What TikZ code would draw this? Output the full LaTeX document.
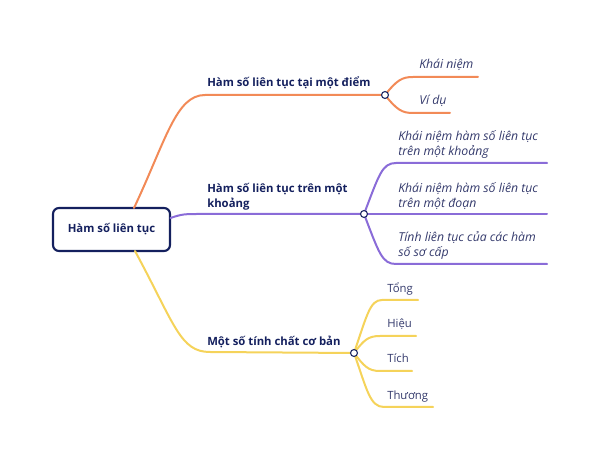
\documentclass[tikz,border=0pt]{standalone}
\usepackage{fontspec}
\setmainfont{Open Sans}
\definecolor{navy}{HTML}{14205E}
\definecolor{leafc}{HTML}{343A6C}
\definecolor{orangec}{HTML}{F28A57}
\definecolor{purplec}{HTML}{8A6CD8}
\definecolor{yellowc}{HTML}{F5D35A}
\tikzset{
  mainlbl/.style={anchor=base west, inner sep=0pt, text=navy, font=\fontsize{8.5}{11.25}\selectfont\bfseries},
  leaflbl/.style={anchor=base west, inner sep=0pt, text=leafc, font=\fontsize{9.2}{11.25}\selectfont\itshape},
  plainlbl/.style={anchor=base west, inner sep=0pt, text=leafc, font=\fontsize{8.5}{11.25}\selectfont},
  hub/.style={circle, draw=navy, fill=white, line width=0.8pt, inner sep=0pt, minimum size=5.2pt},
  br/.style={line width=1.5pt, line cap=round},
}
\begin{document}
\begin{tikzpicture}[x=0.75pt,y=-0.75pt]
\useasboundingbox (0,0) rectangle (604,466);
% root
\node[draw=navy, line width=1.6pt, rounded corners=4.5pt, fill=white, minimum width=117*0.75pt, minimum height=43*0.75pt, inner sep=0pt, text=navy, font=\fontsize{8.5}{11}\selectfont\bfseries] (root) at (111.5,229.5) {Hàm số liên tục};
\coordinate (rootT) at (134,208);
\coordinate (rootR) at (170.5,218);
\coordinate (rootB) at (135,251);
% hubs positions
\coordinate (h1) at (385,95);
\coordinate (h2) at (364,214);
\coordinate (h3) at (354,353);
% orange branch
\begin{scope}[draw=orangec]
\draw[br] (rootT) .. controls (166,140) and (176,95) .. (205,95) -- (h1);
\draw[br] (h1) .. controls (397,80) and (402,77) .. (413,77) coordinate (o1s) -- (478,77) coordinate (o1e);
\draw[br] (h1) .. controls (397,110) and (402,113) .. (413,113) coordinate (o2s) -- (450,113) coordinate (o2e);
\end{scope}
% purple branch
\begin{scope}[draw=purplec]
\draw[br] (rootR) .. controls (182,214) and (185,214) .. (200,214) -- (h2);
\draw[br] (h2) .. controls (379,175) and (382,163) .. (396,163) coordinate (p1s) -- (547,163) coordinate (p1e);
\draw[br] (h2) -- (547,214) coordinate (p2e);
\draw[br] (h2) .. controls (379,253) and (382,264) .. (396,264) coordinate (p3s) -- (547,264) coordinate (p3e);
\end{scope}
% yellow branch
\begin{scope}[draw=yellowc]
\draw[br] (rootB) .. controls (175,325) and (180,352) .. (210,352) -- (h3);
\draw[br] (h3) .. controls (367,315) and (370,300) .. (382,300) coordinate (y1s) -- (418,300) coordinate (y1e);
\draw[br] (h3) .. controls (364,340) and (368,336) .. (380,336) coordinate (y2s) -- (416,336) coordinate (y2e);
\draw[br] (h3) .. controls (364,366) and (368,371) .. (380,371) coordinate (y3s) -- (412,371) coordinate (y3e);
\draw[br] (h3) .. controls (367,390) and (370,407) .. (384,407) coordinate (y4s) -- (433,407) coordinate (y4e);
\end{scope}
\node[hub] (c1) at (h1) {};
\node[hub] (c2) at (h2) {};
\node[hub] (c3) at (h3) {};
% labels
\node[mainlbl] (m1) at (207,87) {Hàm số liên tục tại một điểm};
\node[mainlbl] (m2) at (207,193) {\parbox[t]{200pt}{Hàm số liên tục trên một\\khoảng}};
\node[mainlbl] (m3) at (207,346) {Một số tính chất cơ bản};
\node[leaflbl] (l1) at (419,69) {Khái niệm};
\node[leaflbl] (l2) at (419,105) {Ví dụ};
\node[leaflbl] (l3) at (398,141) {\parbox[t]{200pt}{Khái niệm hàm số liên tục\\trên một khoảng}};
\node[leaflbl] (l4) at (398,193) {\parbox[t]{200pt}{Khái niệm hàm số liên tục\\trên một đoạn}};
\node[leaflbl] (l5) at (398,242) {\parbox[t]{200pt}{Tính liên tục của các hàm\\số sơ cấp}};
\node[plainlbl] (l6) at (387,293) {Tổng};
\node[plainlbl] (l7) at (387,328) {Hiệu};
\node[plainlbl] (l8) at (387,363) {Tích};
\node[plainlbl] (l9) at (387,400) {Thương};
\end{tikzpicture}
\end{document}
